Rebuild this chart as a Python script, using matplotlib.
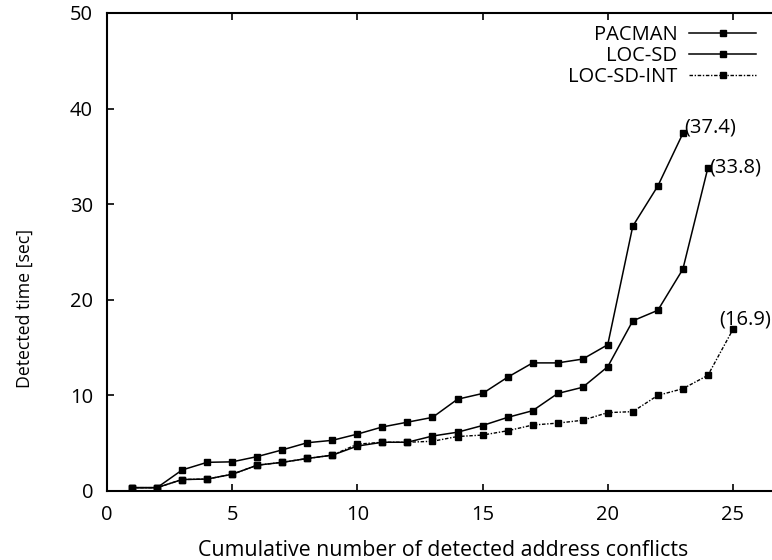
import matplotlib
matplotlib.use("Agg")
import matplotlib.pyplot as plt

plt.rcParams['font.family'] = ['Open Sans', 'DejaVu Sans']

x_pacman = list(range(1, 24))
pacman = [0.35, 0.35, 2.2, 3.0, 3.05, 3.6, 4.3, 5.05, 5.3, 5.95, 6.7, 7.2, 7.7,
          9.6, 10.2, 11.9, 13.4, 13.4, 13.8, 15.3, 27.7, 31.9, 37.4]
x_locsd = list(range(1, 25))
locsd = [0.35, 0.35, 1.2, 1.25, 1.75, 2.7, 3.0, 3.4, 3.75, 4.7, 5.1, 5.1, 5.75,
         6.15, 6.85, 7.7, 8.4, 10.2, 10.85, 13.0, 17.8, 18.9, 23.2, 33.8]
x_locsdint = list(range(1, 26))
locsdint = [0.35, 0.35, 1.2, 1.25, 1.75, 2.7, 3.0, 3.4, 3.75, 4.9, 5.1, 5.1, 5.2,
            5.7, 5.85, 6.3, 6.9, 7.1, 7.4, 8.2, 8.3, 10.0, 10.7, 12.1, 16.9]
series_names = ["PACMAN", "LOC-SD", "LOC-SD-INT"]
x_ticks = [0, 5, 10, 15, 20, 25]
y_ticks = [0, 10, 20, 30, 40, 50]

W, H = 772, 560
fig = plt.figure(figsize=(W / 100, H / 100), dpi=100)
left, right, top, bottom = 107, 783, 13, 491
ax = fig.add_axes([left / W, 1 - bottom / H, (right - left) / W, (bottom - top) / H])

fs = 14.5
ax.plot(x_pacman, pacman, color='black', lw=1.1, marker='s', ms=5,
        label=series_names[0])
ax.plot(x_locsd, locsd, color='black', lw=1.1, marker='s', ms=5,
        label=series_names[1])
ax.plot(x_locsdint, locsdint, color='black', lw=1.0, ls=(0, (2.5, 1.2, 1, 1.2)),
        marker='s', ms=4.5, label=series_names[2])

ax.annotate("(%.1f)" % pacman[-1], (x_pacman[-1], pacman[-1]), xytext=(1, 4),
            textcoords='offset points', ha='left', va='center', fontsize=fs)
ax.annotate("(%.1f)" % locsd[-1], (x_locsd[-1], locsd[-1]), xytext=(1, 0),
            textcoords='offset points', ha='left', va='center', fontsize=fs)
ax.annotate("(%.1f)" % locsdint[-1], (x_locsdint[-1], locsdint[-1]), xytext=(9, 7),
            textcoords='offset points', ha='center', va='center', fontsize=fs)

ax.set_xlim(0, 27)
ax.set_ylim(0, 50)
ax.set_xticks(x_ticks)
ax.set_yticks(y_ticks)
ax.tick_params(direction='in', length=5, width=1.2, labelsize=fs, pad=10,
               top=True, right=True)
for s in ax.spines.values():
    s.set_linewidth(1.5)

leg = ax.legend(loc='upper right',
                bbox_to_anchor=((768 - left) / (right - left), 1.0),
                frameon=False, fontsize=fs, markerfirst=False, handlelength=3.3,
                handletextpad=0.6, labelspacing=0.05, borderaxespad=0.2)

fig.text(25 / W, 1 - 309 / H, "Detected time [sec]", rotation=90, ha='center',
         va='center', fontsize=12.8)
fig.text(443 / W, 1 - 550 / H, "Cumulative number of detected address conflicts",
         ha='center', va='center', fontsize=15.4)

fig.savefig("out.png", dpi=100)
